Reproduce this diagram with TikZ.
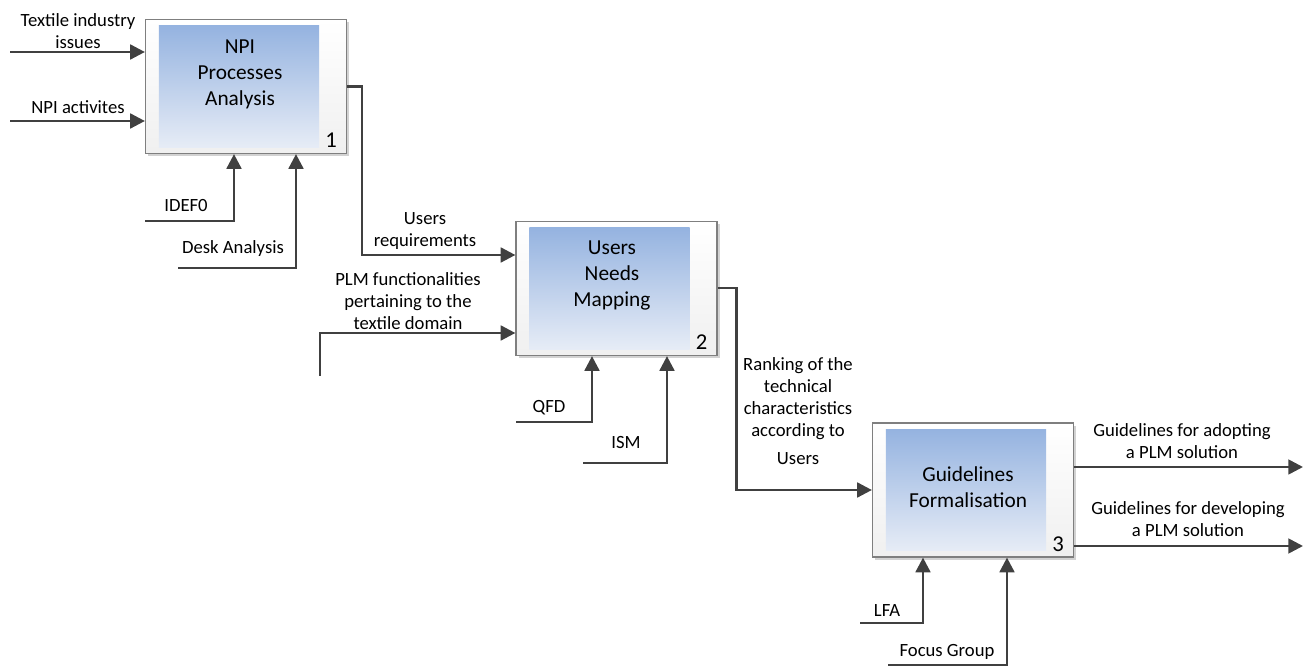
\documentclass[tikz,border=0pt]{standalone}
\usepackage{fontspec}
\setmainfont{Carlito}
\usetikzlibrary{arrows.meta, positioning, shadows}

\definecolor{flowline}{HTML}{404040}
\definecolor{boxedge}{HTML}{7F7F7F}
\definecolor{innertop}{HTML}{95B3E0}
\definecolor{innerbot}{HTML}{E6ECF6}

\begin{document}
\begin{tikzpicture}[x=0.75pt, y=-0.75pt,
    activity/.style={draw=boxedge, line width=0.9pt, top color=white, bottom color=gray!12,
        minimum width=150.75pt, minimum height=100.5pt, inner sep=0pt,
        drop shadow={shadow xshift=2.2pt, shadow yshift=-2.2pt, fill=gray!35, opacity=1}},
    title/.style={font=\fontsize{16}{19.5}\selectfont, align=center},
    number/.style={font=\fontsize{17}{20}\selectfont, inner sep=0pt, anchor=south east},
    flowtext/.style={font=\fontsize{14}{16.5}\selectfont, align=center, inner sep=0pt},
    flow/.style={draw=flowline, line width=2pt, -{Triangle[length=11pt, width=11pt]}}]

        \useasboundingbox (0,0) rectangle (1304,666);

        % activity boxes
        \node[activity] (npa) at (246,86.5) {};
        \node[activity] (unm) at (616.5,288.5) {};
        \node[activity] (gfo) at (973,490) {};

        \foreach \b in {npa, unm, gfo}
            \shade[top color=innertop, bottom color=innerbot]
                ([shift={(14,7)}]\b.north west) rectangle ([shift={(-28,-7)}]\b.south east);

        \node[title] (npa text) at (240,74) {NPI\\Processes\\Analysis};
        \node[title] (unm text) at (612,275) {Users\\Needs\\Mapping};
        \node[title] (gfo text) at (968,487) {Guidelines\\Formalisation};

        \node[number] (npa num) at ([shift={(-10,-6)}]npa.south east) {1};
        \node[number] (unm num) at ([shift={(-10,-6)}]unm.south east) {2};
        \node[number] (gfo num) at ([shift={(-10,-6)}]gfo.south east) {3};

        % free ends
        \coordinate (tii) at (10,52);
        \coordinate (npi) at (10,121);
        \coordinate (idef) at (145,221);
        \coordinate (desk) at (178,268);
        \coordinate (plm) at (320,376);
        \coordinate (qfd) at (516,422);
        \coordinate (ism) at (583,463);
        \coordinate (lfa) at (860,623);
        \coordinate (focus) at (888,665);
        \coordinate (adopt) at (1303,467);
        \coordinate (develop) at (1303,546);

        % connectors
        \draw[flow] (tii) -- (tii -| npa.west);
        \draw[flow] (npi) -- (npi -| npa.west);
        \draw[flow] (idef) -| ([shift={(-12,0)}]npa.south);
        \draw[flow] (desk) -| ([shift={(50,0)}]npa.south);
        \draw[flow] (npa.east) -- ++(15,0) |- ([shift={(0,-33.5)}]unm.west);
        \draw[flow] (plm) |- ([shift={(0,44.5)}]unm.west);
        \draw[flow] (qfd) -| ([shift={(-24.5,0)}]unm.south);
        \draw[flow] (ism) -| ([shift={(50.5,0)}]unm.south);
        \draw[flow] ([shift={(0,-0.5)}]unm.east) -- ++(19,0) |- (gfo.west);
        \draw[flow] (lfa) -| ([shift={(-50,0)}]gfo.south);
        \draw[flow] (focus) -| ([shift={(34,0)}]gfo.south);
        \draw[flow] (gfo.east |- adopt) -- (adopt);
        \draw[flow] (gfo.east |- develop) -- (develop);

        % labels
        \node[flowtext] (tii text) at (78,31) {Textile industry\\issues};
        \node[flowtext] (npi text) at (78,107) {NPI activites};
        \node[flowtext] (idef text) at (186,206) {IDEF0};
        \node[flowtext] (desk text) at (233,249) {Desk Analysis};
        \node[flowtext] (req text) at (425,231) {Users\\requirements};
        \node[flowtext] (plm text) at (408,301) {PLM functionalities\\pertaining to the\\textile domain};
        \node[flowtext] (qfd text) at (549,408) {QFD};
        \node[flowtext] (ism text) at (626,443) {ISM};
        \node[flowtext] (rank text) at (798,411) {Ranking of the\\technical\\characteristics\\according to\\[4pt]Users};
        \node[flowtext] (lfa text) at (887,611) {LFA};
        \node[flowtext] (focus text) at (947,652) {Focus Group};
        \node[flowtext] (adopt text) at (1182,441) {Guidelines for adopting\\a PLM solution};
        \node[flowtext] (develop text) at (1188,519) {Guidelines for developing\\a PLM solution};
    \end{tikzpicture}
\end{document}
